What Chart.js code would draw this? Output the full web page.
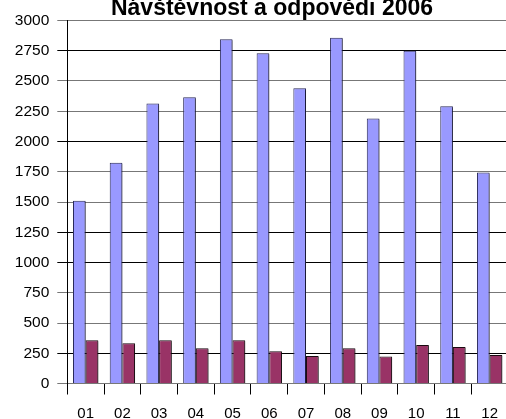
<!DOCTYPE html>
<html>
<head>
<meta charset="utf-8">
<script src="https://cdn.jsdelivr.net/npm/chart.js@4"></script>
<style>
  html, body { margin: 0; padding: 0; background: #fff; overflow: hidden; }
  #wrap { width: 508px; height: 419px; }
</style>
</head>
<body>
<div id="wrap"><canvas id="chart"></canvas></div>
<script>
// Data
const months = ['01', '02', '03', '04', '05', '06', '07', '08', '09', '10', '11', '12'];
const navstevnost = [1510, 1825, 2315, 2365, 2845, 2730, 2440, 2858, 2190, 2750, 2292, 1743];
const odpovedi = [358, 333, 358, 292, 358, 267, 227, 292, 223, 319, 302, 236];
const chartTitle = 'Návštěvnost a odpovědi 2006';

// grid lines that come out crisp black in the original (others look grey)
const darkLines = [250, 1000, 1250, 2000, 2750];

const fontFamily = '"Liberation Sans", Arial, sans-serif';

// gray drop shadow behind the bars
const barShadow = {
  id: 'barShadow',
  beforeDatasetsDraw(chart) {
    const ctx = chart.ctx;
    ctx.save();
    ctx.shadowColor = 'rgba(0,0,0,0.4)';
    ctx.shadowOffsetX = 2;
    ctx.shadowOffsetY = 1;
    ctx.shadowBlur = 0;
  },
  afterDatasetsDraw(chart) {
    chart.ctx.restore();
  }
};

// the title sits partly above the top edge in the original, so draw it by hand
const topTitle = {
  id: 'topTitle',
  afterDraw(chart) {
    const ctx = chart.ctx;
    ctx.save();
    ctx.font = 'bold 23px ' + fontFamily;
    ctx.fillStyle = '#000';
    ctx.textAlign = 'center';
    ctx.textBaseline = 'alphabetic';
    ctx.fillText(chartTitle, 272, 15);
    ctx.restore();
  }
};

const chart = new Chart(document.getElementById('chart'), {
  type: 'bar',
  data: {
    labels: months,
    datasets: [
      {
        label: 'Návštěvnost',
        data: navstevnost,
        backgroundColor: '#9999ff',
        borderColor: '#2a2a5a',
        borderWidth: 1
      },
      {
        label: 'Odpovědi',
        data: odpovedi,
        backgroundColor: '#993366',
        borderColor: '#1a0a10',
        borderWidth: 1
      }
    ]
  },
  plugins: [barShadow, topTitle],
  options: {
    responsive: true,
    maintainAspectRatio: false,
    animation: false,
    layout: { padding: { left: 0, right: 0, top: 20.5, bottom: 0 } },
    datasets: {
      bar: { categoryPercentage: 0.69, barPercentage: 1 }
    },
    plugins: {
      legend: { display: false },
      tooltip: { enabled: false },
      title: { display: false }
    },
    scales: {
      x: {
        grid: {
          offset: true,
          drawOnChartArea: false,
          tickLength: 11,
          color: '#000'
        },
        border: { color: '#777' },
        ticks: {
          color: '#000',
          padding: 10,
          maxRotation: 0,
          font: { family: fontFamily, size: 15 }
        },
        afterFit(scale) { scale.height = 35.5; }
      },
      y: {
        min: 0,
        max: 3000,
        grid: {
          tickLength: 10,
          color: ctx => (ctx.tick && darkLines.includes(ctx.tick.value)) ? '#000' : '#777'
        },
        border: { color: '#000' },
        ticks: {
          stepSize: 250,
          color: '#000',
          padding: 8,
          font: { family: fontFamily, size: 15.5 },
          callback: v => String(v)
        },
        afterFit(scale) { scale.width = 67.3; }
      }
    }
  }
});
</script>
</body>
</html>
